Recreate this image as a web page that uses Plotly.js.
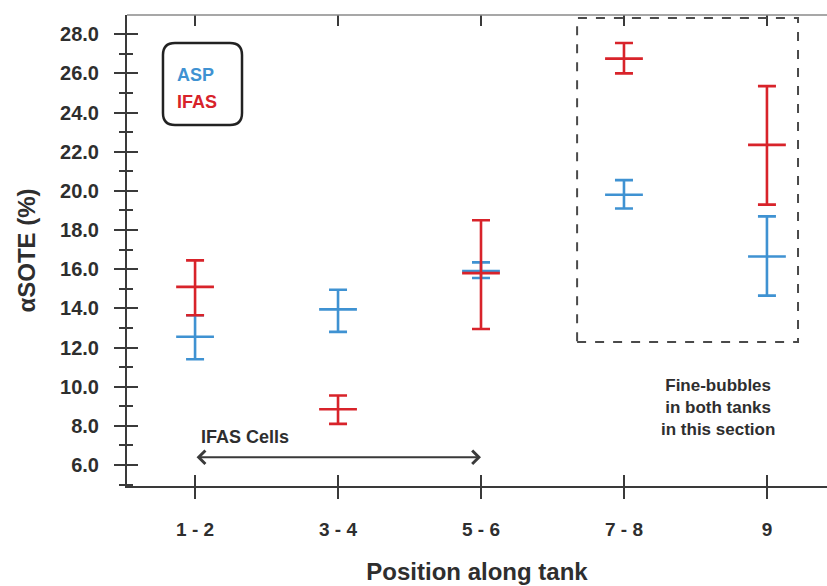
<!DOCTYPE html>
<html>
<head>
<meta charset="utf-8">
<script src="https://cdn.plot.ly/plotly-3.0.1.min.js"></script>
<style>
  html, body { margin: 0; padding: 0; background: #fff; }
  #chart { width: 827px; height: 586px; }
</style>
</head>
<body>
<div id="chart"></div>
<script>
// Positions along the tank
const categories = ['1 - 2', '3 - 4', '5 - 6', '7 - 8', '9'];

// ASP: mean alpha-SOTE (%) with upper / lower bounds
const aspMean  = [12.55, 13.95, 15.9, 19.8, 16.65];
const aspUpper = [13.65, 14.95, 16.35, 20.55, 18.7];
const aspLower = [11.4, 12.8, 15.55, 19.1, 14.65];

// IFAS: mean alpha-SOTE (%) with upper / lower bounds
const ifasMean  = [15.1, 8.85, 15.8, 26.75, 22.35];
const ifasUpper = [16.45, 9.55, 18.5, 27.55, 25.35];
const ifasLower = [13.65, 8.1, 12.95, 26.0, 19.3];

const BLUE = '#3f92d2';
const RED = '#d8232a';
const INK = '#2e2e2e';
const AXIS = '#3a3a3a';
const FONT = 'Liberation Sans, Arial, sans-serif';

const yRange = [4.93, 28.98];
const xRange = [-0.476, 4.42];

function errorBars(mean, upper, lower, color) {
  return {
    type: 'data',
    symmetric: false,
    array: upper.map((u, i) => u - mean[i]),
    arrayminus: lower.map((l, i) => mean[i] - l),
    color: color,
    thickness: 2.6,
    width: 9
  };
}

function series(name, mean, upper, lower, color, xa, ya) {
  return {
    type: 'scatter',
    mode: 'markers',
    name: name,
    x: categories,
    y: mean,
    xaxis: xa,
    yaxis: ya,
    marker: { symbol: 'line-ew', size: 27, color: color, line: { color: color, width: 2.6 } },
    error_y: errorBars(mean, upper, lower, color),
    hoverinfo: 'x+y'
  };
}

// IFAS sits on an overlaid axis pair (same ranges) whose inward ticks
// complete the crossing tick marks of the main axes.
const traces = [
  series('ASP', aspMean, aspUpper, aspLower, BLUE, 'x', 'y'),
  series('IFAS', ifasMean, ifasUpper, ifasLower, RED, 'x2', 'y2')
];

// corner-rounded frame drawn in paper units
function roundedBox(x0, y0, x1, y1, rx, ry) {
  return 'M' + (x0 + rx) + ',' + y1 +
    ' L' + (x1 - rx) + ',' + y1 + ' Q' + x1 + ',' + y1 + ' ' + x1 + ',' + (y1 - ry) +
    ' L' + x1 + ',' + (y0 + ry) + ' Q' + x1 + ',' + y0 + ' ' + (x1 - rx) + ',' + y0 +
    ' L' + (x0 + rx) + ',' + y0 + ' Q' + x0 + ',' + y0 + ' ' + x0 + ',' + (y0 + ry) +
    ' L' + x0 + ',' + (y1 - ry) + ' Q' + x0 + ',' + y1 + ' ' + (x0 + rx) + ',' + y1 + ' Z';
}

const innerX = {
  type: 'category',
  categoryarray: categories,
  overlaying: 'x',
  anchor: 'y2',
  side: 'bottom',
  range: xRange,
  showticklabels: false,
  showgrid: false,
  zeroline: false,
  showline: false,
  mirror: 'ticks',
  ticks: 'inside',
  ticklen: 11,
  tickwidth: 2,
  tickcolor: AXIS
};

const innerY = {
  overlaying: 'y',
  anchor: 'x2',
  side: 'left',
  range: yRange,
  tick0: 0,
  dtick: 2,
  showticklabels: false,
  showgrid: false,
  zeroline: false,
  showline: false,
  ticks: 'inside',
  ticklen: 11,
  tickwidth: 2,
  tickcolor: AXIS,
  minor: { dtick: 1, ticks: 'inside', ticklen: 6, tickwidth: 2, tickcolor: AXIS, showgrid: false }
};

const layout = {
  width: 827,
  height: 586,
  margin: { l: 127, r: 0, t: 15, b: 100 },
  paper_bgcolor: '#ffffff',
  plot_bgcolor: '#ffffff',
  showlegend: false,
  font: { family: FONT, color: INK },
  xaxis: {
    type: 'category',
    categoryarray: categories,
    range: xRange,
    showgrid: false,
    zeroline: false,
    showline: true,
    linecolor: AXIS,
    linewidth: 2,
    ticks: 'outside',
    ticklen: 11,
    tickwidth: 2,
    tickcolor: AXIS,
    ticklabelstandoff: 14,
    tickfont: { family: FONT, size: 19, weight: 'bold', color: INK },
    title: {
      text: 'Position along tank',
      font: { family: FONT, size: 24, weight: 'bold', color: INK },
      standoff: 24
    }
  },
  xaxis2: innerX,
  yaxis: {
    range: yRange,
    tick0: 0,
    dtick: 2,
    tickformat: '.1f',
    showgrid: false,
    zeroline: false,
    showline: true,
    linecolor: AXIS,
    linewidth: 2,
    ticks: 'outside',
    ticklen: 11,
    tickwidth: 2,
    tickcolor: AXIS,
    minor: { dtick: 1, ticks: 'outside', ticklen: 6, tickwidth: 2, tickcolor: AXIS, showgrid: false },
    ticklabelstandoff: 11,
    tickfont: { family: FONT, size: 20, weight: 'bold', color: INK },
    title: {
      text: '\u03b1SOTE (%)',
      font: { family: FONT, size: 24, weight: 'bold', color: INK },
      standoff: 18
    }
  },
  yaxis2: innerY,
  shapes: [
    // top frame line
    {
      type: 'line', xref: 'paper', yref: 'paper',
      x0: 0, x1: 1, y0: 1, y1: 1,
      line: { color: '#8a8a8a', width: 1.6 }
    },
    // section with fine-bubble diffusers in both tanks
    {
      type: 'rect', xref: 'paper', yref: 'paper',
      x0: 0.643, x1: 0.9586, y0: 0.3057, y1: 0.9936,
      line: { color: '#4a4a4a', width: 2, dash: 'dash' },
      fillcolor: 'rgba(0,0,0,0)'
    },
    // key frame
    {
      type: 'path', xref: 'paper', yref: 'paper',
      path: roundedBox(0.0514, 0.7665, 0.1643, 0.9406, 0.0171, 0.0255),
      line: { color: '#222222', width: 2.5 },
      fillcolor: 'rgba(0,0,0,0)'
    }
  ],
  annotations: [
    {
      xref: 'paper', yref: 'paper', x: 0.0686, y: 0.8726,
      xanchor: 'left', yanchor: 'middle', showarrow: false,
      text: 'ASP', font: { family: FONT, size: 18, weight: 'bold', color: BLUE }
    },
    {
      xref: 'paper', yref: 'paper', x: 0.0686, y: 0.8153,
      xanchor: 'left', yanchor: 'middle', showarrow: false,
      text: 'IFAS', font: { family: FONT, size: 18, weight: 'bold', color: RED }
    },
    {
      xref: 'x', yref: 'y', x: 0.03, y: 7.45,
      xanchor: 'left', yanchor: 'middle', showarrow: false,
      text: 'IFAS Cells', font: { family: FONT, size: 18, weight: 'bold', color: INK }
    },
    {
      xref: 'x', yref: 'y', x: 2.0, y: 6.4,
      axref: 'x', ayref: 'y', ax: 0.0, ay: 6.4,
      text: '', showarrow: true,
      arrowhead: 4, startarrowhead: 4, arrowside: 'end+start',
      arrowsize: 1.3, startarrowsize: 1.3, arrowwidth: 2, arrowcolor: AXIS,
      standoff: 0, startstandoff: 0
    },
    {
      xref: 'x', yref: 'y', x: 3.66, y: 8.95,
      xanchor: 'center', yanchor: 'middle', align: 'center', showarrow: false,
      text: 'Fine-bubbles<br>in both tanks<br>in this section',
      font: { family: FONT, size: 17, weight: 'bold', color: INK }
    }
  ]
};

Plotly.newPlot('chart', traces, layout, { displayModeBar: false, responsive: false });
</script>
</body>
</html>
